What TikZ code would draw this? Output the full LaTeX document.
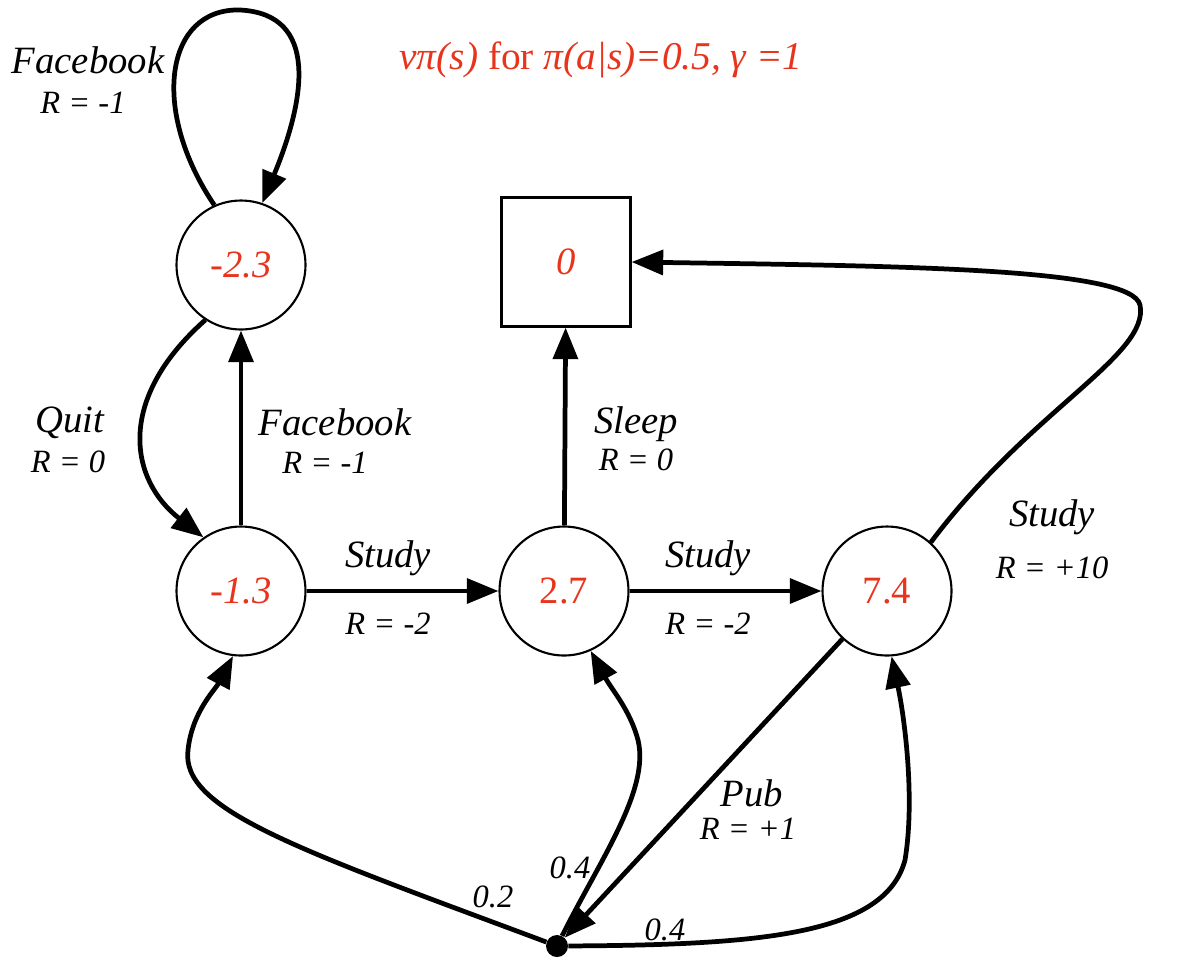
\documentclass[tikz,border=0pt]{standalone}
\usepackage{fontspec}
\setmainfont{Liberation Serif}
\usepackage{xcolor}
\usepackage{tikz}
\usetikzlibrary{arrows.meta}
\definecolor{valred}{RGB}{232,52,28}

\begin{document}
\begin{tikzpicture}[x=0.02cm, y=-0.02cm, >={Triangle[length=18pt,width=14pt]},
  state/.style={circle, draw, line width=1.2pt, minimum size=2.58cm, inner sep=0pt, text=valred, font=\fontsize{22}{24}\selectfont},
  term/.style={rectangle, draw, line width=1.2pt, minimum size=2.58cm, inner sep=0pt, text=valred, font=\fontsize{22}{24}\selectfont\itshape},
  chance/.style={circle, fill=black, minimum size=0.44cm, inner sep=0pt},
  edge/.style={line width=2.7pt, ->},
  act/.style={font=\fontsize{22}{24}\selectfont\itshape, inner sep=0pt},
  rew/.style={font=\fontsize{18.5}{21}\selectfont\itshape, inner sep=0pt}]

\useasboundingbox (0,0) rectangle (1202,964);

% states
\node[state, font=\fontsize{22}{24}\selectfont\itshape] (facebook) at (241, 265) {-2.3};
\node[state, font=\fontsize{22}{24}\selectfont\itshape] (class1) at (241, 591) {-1.3};
\node[state] (class2) at (564, 591) {2.7};
\node[state] (class3) at (887, 591) {7.4};
\node[term] (sleep) at (566, 262) {0};
\node[chance] (pub) at (557, 946) {};

% title
\node[text=valred, font=\fontsize{22.4}{24}\selectfont\itshape] (title) at (601, 60) {vπ(s) \textup{for} π(a|s)=0.5, γ =1};

% edges
\draw[edge] (facebook.114) .. controls (150, 110) and (165, 8) .. (240, 10)
  .. controls (320, 14) and (305, 100) .. (facebook.71);
\draw[edge] (facebook.-123) .. controls (115, 400) and (130, 480) .. (class1.125);
\draw[edge] (class1) -- (facebook);
\draw[edge] (class1) -- (class2);
\draw[edge] (class2) -- (class3);
\draw[edge] (class2) -- (sleep);
\draw[edge] (class3.48) .. controls (1030, 410) and (1150, 355) .. (1140, 305)
  .. controls (1132, 268) and (900, 266) .. (sleep.east);
\draw[edge] (class3) -- (pub);
\draw[edge] (pub) .. controls (300, 850) and (180, 810) .. (188, 750)
  .. controls (192, 712) and (215, 690) .. (class1.-97);
\draw[edge] (pub) .. controls (600, 860) and (650, 790) .. (638, 740)
  .. controls (630, 710) and (612, 690) .. (class2.-66);
\draw[edge] (pub) .. controls (760, 945) and (885, 935) .. (905, 860)
  .. controls (915, 800) and (905, 720) .. (class3.-86);

% labels
\node[act] (l1) at (88, 60) {Facebook};
\node[rew] (r1) at (83, 103) {R = -1};
\node[act] (l2) at (70, 423) {Quit};
\node[rew] (r2) at (68, 462) {R = 0};
\node[act] (l3) at (335, 422) {Facebook};
\node[rew] (r3) at (325, 463) {R = -1};
\node[act] (l4) at (388, 558) {Study};
\node[rew] (r4) at (388, 624) {R = -2};
\node[act] (l5) at (636, 424) {Sleep};
\node[rew] (r5) at (636, 460) {R = 0};
\node[act] (l6) at (708, 558) {Study};
\node[rew] (r6) at (708, 624) {R = -2};
\node[act] (l7) at (1052, 517) {Study};
\node[rew] (r7) at (1052, 568) {R = +10};
\node[act] (l8) at (752, 793) {Pub};
\node[rew] (r8) at (748, 829) {R = +1};
\node[rew] (p1) at (493, 897) {0.2};
\node[rew] (p2) at (570, 868) {0.4};
\node[rew] (p3) at (665, 930) {0.4};

\end{tikzpicture}
\end{document}
